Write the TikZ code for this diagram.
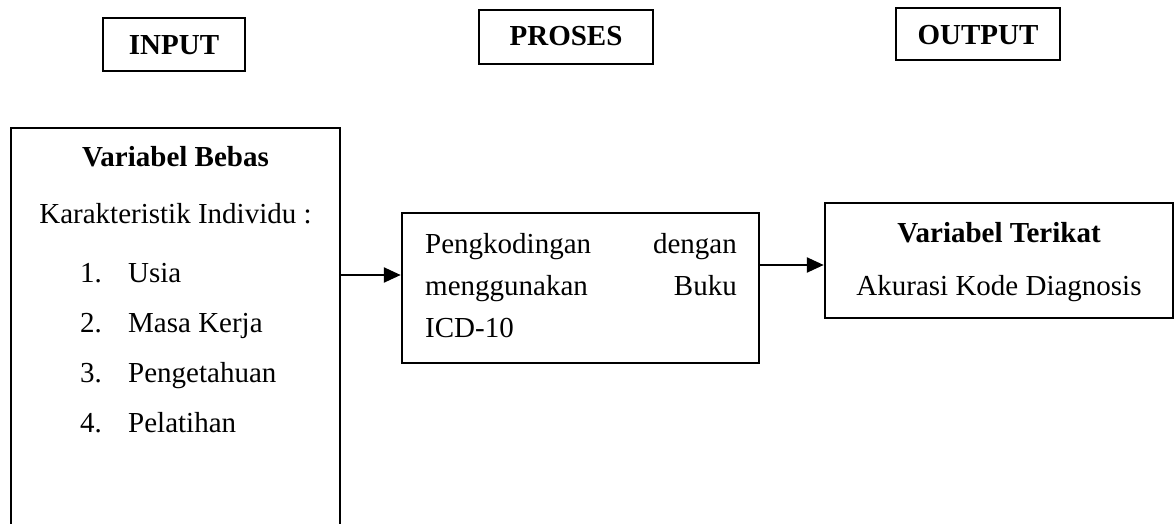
\documentclass[tikz,border=0pt]{standalone}
\usepackage{fontspec}
\setmainfont{Liberation Serif}
\usetikzlibrary{arrows.meta}
\begin{document}
\begin{tikzpicture}[x=1pt,y=-1pt,
  txt/.style={inner sep=0pt,font=\fontsize{29}{35}\selectfont},
  btxt/.style={inner sep=0pt,font=\fontsize{29}{35}\selectfont\bfseries},
  titlebox/.style={draw,line width=1.5pt,inner sep=0pt},
  mainbox/.style={draw,line width=2.5pt,inner sep=0pt},
  conn/.style={line width=2.5pt,-{Triangle[length=17pt,width=15pt]}}]
\useasboundingbox (0,0) rectangle (1176,524);
% title boxes
\node[titlebox,minimum width=142pt,minimum height=53pt] (inbox) at (174,44.5) {};
\node[btxt,anchor=base] (intxt) at (174,55) {INPUT};
\node[titlebox,minimum width=174pt,minimum height=54pt] (prbox) at (566,37) {};
\node[btxt,anchor=base] (prtxt) at (566,46) {PROSES};
\node[titlebox,minimum width=164pt,minimum height=52pt] (outbox) at (978,34) {};
\node[btxt,anchor=base] (outtxt) at (978,45) {OUTPUT};
% left open box
\coordinate (bl) at (11,526);
\coordinate (tl) at (11,128);
\coordinate (tr) at (340,128);
\coordinate (br) at (340,526);
\draw[line width=2.5pt] (bl) -- (tl) -- (tr) -- (br);
\node[btxt,anchor=base] (vb) at (175.5,167) {Variabel Bebas};
\node[txt,anchor=base] (ki) at (175.5,223) {Karakteristik Individu :};
\node[txt,anchor=base west] (n1) at (80,282) {1.};
\node[txt,anchor=base west] (t1) at (128,282) {Usia};
\node[txt,anchor=base west] (n2) at (80,332) {2.};
\node[txt,anchor=base west] (t2) at (128,332) {Masa Kerja};
\node[txt,anchor=base west] (n3) at (80,382) {3.};
\node[txt,anchor=base west] (t3) at (128,382) {Pengetahuan};
\node[txt,anchor=base west] (n4) at (80,432) {4.};
\node[txt,anchor=base west] (t4) at (128,432) {Pelatihan};
% middle box
\node[mainbox,minimum width=357pt,minimum height=150pt] (mid) at (580.5,288) {};
\node[txt,anchor=base west] (m1a) at (425,253) {Pengkodingan};
\node[txt,anchor=base east] (m1b) at (737,253) {dengan};
\node[txt,anchor=base west] (m2a) at (425,295) {menggunakan};
\node[txt,anchor=base east] (m2b) at (737,295) {Buku};
\node[txt,anchor=base west] (m3) at (425,337) {ICD-10};
% right box
\node[mainbox,minimum width=348pt,minimum height=115pt] (out) at (999,260.5) {};
\node[btxt,anchor=base] (vt) at (999,242) {Variabel Terikat};
\node[txt,anchor=base] (ak) at (999,295) {Akurasi Kode Diagnosis};
% connectors
\coordinate (a1) at (340,275);
\coordinate (a2) at (759,265);
\draw[conn] (a1) -- (mid.west |- a1);
\draw[conn] (a2) -- (out.west |- a2);
\end{tikzpicture}
\end{document}
